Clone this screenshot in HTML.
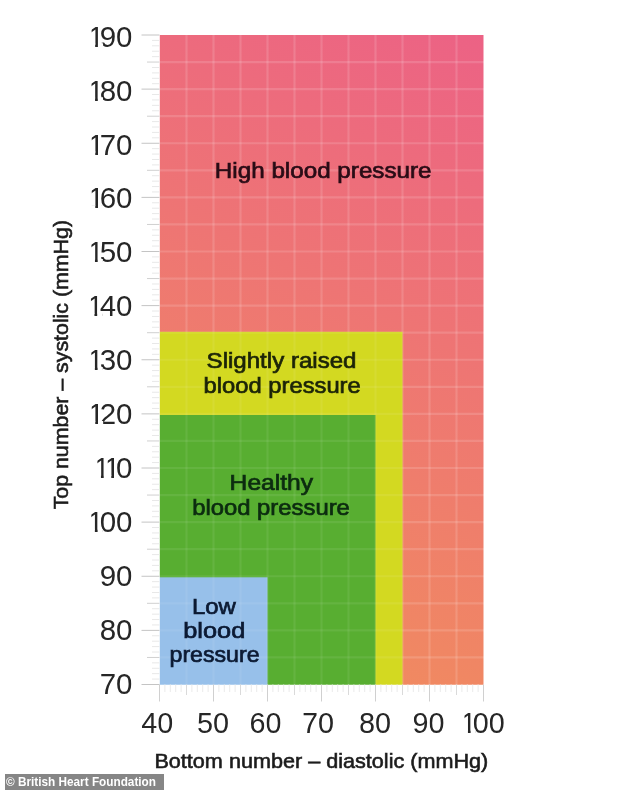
<!DOCTYPE html>
<html lang="en">
<head>
<meta charset="utf-8">
<title>Blood pressure chart</title>
<style>
html,body{margin:0;padding:0;background:#fff;width:634px;height:790px;overflow:hidden;}
.wrap{width:634px;height:790px;overflow:hidden;position:relative;}
svg{display:block;filter:blur(0.4px);}
text{font-family:"Liberation Sans",Arial,sans-serif;}
.num{font-size:29.5px;fill:#262626;}
.ax{font-size:21px;fill:#1c1c1c;stroke:#1c1c1c;stroke-width:0.6;}
.lab{font-size:22px;stroke-width:0.7;}
</style>
</head>
<body>
<div class="wrap">
<svg width="634" height="800" viewBox="0 0 634 800">
<defs>
<linearGradient id="bg" gradientUnits="userSpaceOnUse" x1="483.5" y1="35" x2="165.6" y2="687.5">
<stop offset="0" stop-color="#ec6285"/>
<stop offset="1" stop-color="#f1905b"/>
</linearGradient>
</defs>
<rect x="-10" y="-10" width="654" height="820" fill="#ffffff"/>

<clipPath id="chart"><rect x="159.5" y="35.0" width="324.0" height="649.5"/></clipPath>
<clipPath id="inner"><rect x="154.5" y="331.8" width="248.00" height="357.70"/></clipPath>
<g>
<rect x="154.5" y="30.0" width="334.0" height="659.5" fill="url(#bg)"/>
<g stroke="#ffffff" stroke-opacity="0.14" stroke-width="2.2">
<line x1="154.5" y1="657.44" x2="488.5" y2="657.44"/>
<line x1="154.5" y1="630.38" x2="488.5" y2="630.38"/>
<line x1="154.5" y1="603.31" x2="488.5" y2="603.31"/>
<line x1="154.5" y1="576.25" x2="488.5" y2="576.25"/>
<line x1="154.5" y1="549.19" x2="488.5" y2="549.19"/>
<line x1="154.5" y1="522.12" x2="488.5" y2="522.12"/>
<line x1="154.5" y1="495.06" x2="488.5" y2="495.06"/>
<line x1="154.5" y1="468.00" x2="488.5" y2="468.00"/>
<line x1="154.5" y1="440.94" x2="488.5" y2="440.94"/>
<line x1="154.5" y1="413.88" x2="488.5" y2="413.88"/>
<line x1="154.5" y1="386.81" x2="488.5" y2="386.81"/>
<line x1="154.5" y1="359.75" x2="488.5" y2="359.75"/>
<line x1="154.5" y1="332.69" x2="488.5" y2="332.69"/>
<line x1="154.5" y1="305.62" x2="488.5" y2="305.62"/>
<line x1="154.5" y1="278.56" x2="488.5" y2="278.56"/>
<line x1="154.5" y1="251.50" x2="488.5" y2="251.50"/>
<line x1="154.5" y1="224.44" x2="488.5" y2="224.44"/>
<line x1="154.5" y1="197.38" x2="488.5" y2="197.38"/>
<line x1="154.5" y1="170.31" x2="488.5" y2="170.31"/>
<line x1="154.5" y1="143.25" x2="488.5" y2="143.25"/>
<line x1="154.5" y1="116.19" x2="488.5" y2="116.19"/>
<line x1="154.5" y1="89.12" x2="488.5" y2="89.12"/>
<line x1="154.5" y1="62.06" x2="488.5" y2="62.06"/>
<line x1="186.50" y1="30.0" x2="186.50" y2="689.5"/>
<line x1="213.50" y1="30.0" x2="213.50" y2="689.5"/>
<line x1="240.50" y1="30.0" x2="240.50" y2="689.5"/>
<line x1="267.50" y1="30.0" x2="267.50" y2="689.5"/>
<line x1="294.50" y1="30.0" x2="294.50" y2="689.5"/>
<line x1="321.50" y1="30.0" x2="321.50" y2="689.5"/>
<line x1="348.50" y1="30.0" x2="348.50" y2="689.5"/>
<line x1="375.50" y1="30.0" x2="375.50" y2="689.5"/>
<line x1="402.50" y1="30.0" x2="402.50" y2="689.5"/>
<line x1="429.50" y1="30.0" x2="429.50" y2="689.5"/>
<line x1="456.50" y1="30.0" x2="456.50" y2="689.5"/>
</g>
<rect x="154.5" y="331.8" width="248.00" height="357.70" fill="#d3d921"/>
<rect x="154.5" y="415.0" width="221.00" height="274.50" fill="#58ae31"/>
<rect x="154.5" y="577.3" width="113.00" height="112.20" fill="#97c0ea"/>
<g clip-path="url(#inner)">
<g stroke="#ffffff" stroke-opacity="0.075" stroke-width="2.2">
<line x1="154.5" y1="657.44" x2="488.5" y2="657.44"/>
<line x1="154.5" y1="630.38" x2="488.5" y2="630.38"/>
<line x1="154.5" y1="603.31" x2="488.5" y2="603.31"/>
<line x1="154.5" y1="576.25" x2="488.5" y2="576.25"/>
<line x1="154.5" y1="549.19" x2="488.5" y2="549.19"/>
<line x1="154.5" y1="522.12" x2="488.5" y2="522.12"/>
<line x1="154.5" y1="495.06" x2="488.5" y2="495.06"/>
<line x1="154.5" y1="468.00" x2="488.5" y2="468.00"/>
<line x1="154.5" y1="440.94" x2="488.5" y2="440.94"/>
<line x1="154.5" y1="413.88" x2="488.5" y2="413.88"/>
<line x1="154.5" y1="386.81" x2="488.5" y2="386.81"/>
<line x1="154.5" y1="359.75" x2="488.5" y2="359.75"/>
<line x1="154.5" y1="332.69" x2="488.5" y2="332.69"/>
<line x1="154.5" y1="305.62" x2="488.5" y2="305.62"/>
<line x1="154.5" y1="278.56" x2="488.5" y2="278.56"/>
<line x1="154.5" y1="251.50" x2="488.5" y2="251.50"/>
<line x1="154.5" y1="224.44" x2="488.5" y2="224.44"/>
<line x1="154.5" y1="197.38" x2="488.5" y2="197.38"/>
<line x1="154.5" y1="170.31" x2="488.5" y2="170.31"/>
<line x1="154.5" y1="143.25" x2="488.5" y2="143.25"/>
<line x1="154.5" y1="116.19" x2="488.5" y2="116.19"/>
<line x1="154.5" y1="89.12" x2="488.5" y2="89.12"/>
<line x1="154.5" y1="62.06" x2="488.5" y2="62.06"/>
<line x1="186.50" y1="30.0" x2="186.50" y2="689.5"/>
<line x1="213.50" y1="30.0" x2="213.50" y2="689.5"/>
<line x1="240.50" y1="30.0" x2="240.50" y2="689.5"/>
<line x1="267.50" y1="30.0" x2="267.50" y2="689.5"/>
<line x1="294.50" y1="30.0" x2="294.50" y2="689.5"/>
<line x1="321.50" y1="30.0" x2="321.50" y2="689.5"/>
<line x1="348.50" y1="30.0" x2="348.50" y2="689.5"/>
<line x1="375.50" y1="30.0" x2="375.50" y2="689.5"/>
<line x1="402.50" y1="30.0" x2="402.50" y2="689.5"/>
<line x1="429.50" y1="30.0" x2="429.50" y2="689.5"/>
<line x1="456.50" y1="30.0" x2="456.50" y2="689.5"/>
</g>
</g>
</g>
<path fill="#ffffff" fill-rule="evenodd" d="M-10,-10H644V810H-10Z M159.8,35.0H483.5V684.7H159.8Z"/>
<g stroke-width="1" fill="none">
<line x1="141.5" y1="684.50" x2="159.5" y2="684.50" stroke="#c4c4c4"/>
<line x1="152" y1="679.09" x2="159.5" y2="679.09" stroke="#e8e8e8"/>
<line x1="152" y1="673.67" x2="159.5" y2="673.67" stroke="#e8e8e8"/>
<line x1="152" y1="668.26" x2="159.5" y2="668.26" stroke="#e8e8e8"/>
<line x1="152" y1="662.85" x2="159.5" y2="662.85" stroke="#e8e8e8"/>
<line x1="147" y1="657.44" x2="159.5" y2="657.44" stroke="#d0d0d0"/>
<line x1="152" y1="652.02" x2="159.5" y2="652.02" stroke="#e8e8e8"/>
<line x1="152" y1="646.61" x2="159.5" y2="646.61" stroke="#e8e8e8"/>
<line x1="152" y1="641.20" x2="159.5" y2="641.20" stroke="#e8e8e8"/>
<line x1="152" y1="635.79" x2="159.5" y2="635.79" stroke="#e8e8e8"/>
<line x1="141.5" y1="630.38" x2="159.5" y2="630.38" stroke="#c4c4c4"/>
<line x1="152" y1="624.96" x2="159.5" y2="624.96" stroke="#e8e8e8"/>
<line x1="152" y1="619.55" x2="159.5" y2="619.55" stroke="#e8e8e8"/>
<line x1="152" y1="614.14" x2="159.5" y2="614.14" stroke="#e8e8e8"/>
<line x1="152" y1="608.73" x2="159.5" y2="608.73" stroke="#e8e8e8"/>
<line x1="147" y1="603.31" x2="159.5" y2="603.31" stroke="#d0d0d0"/>
<line x1="152" y1="597.90" x2="159.5" y2="597.90" stroke="#e8e8e8"/>
<line x1="152" y1="592.49" x2="159.5" y2="592.49" stroke="#e8e8e8"/>
<line x1="152" y1="587.08" x2="159.5" y2="587.08" stroke="#e8e8e8"/>
<line x1="152" y1="581.66" x2="159.5" y2="581.66" stroke="#e8e8e8"/>
<line x1="141.5" y1="576.25" x2="159.5" y2="576.25" stroke="#c4c4c4"/>
<line x1="152" y1="570.84" x2="159.5" y2="570.84" stroke="#e8e8e8"/>
<line x1="152" y1="565.42" x2="159.5" y2="565.42" stroke="#e8e8e8"/>
<line x1="152" y1="560.01" x2="159.5" y2="560.01" stroke="#e8e8e8"/>
<line x1="152" y1="554.60" x2="159.5" y2="554.60" stroke="#e8e8e8"/>
<line x1="147" y1="549.19" x2="159.5" y2="549.19" stroke="#d0d0d0"/>
<line x1="152" y1="543.77" x2="159.5" y2="543.77" stroke="#e8e8e8"/>
<line x1="152" y1="538.36" x2="159.5" y2="538.36" stroke="#e8e8e8"/>
<line x1="152" y1="532.95" x2="159.5" y2="532.95" stroke="#e8e8e8"/>
<line x1="152" y1="527.54" x2="159.5" y2="527.54" stroke="#e8e8e8"/>
<line x1="141.5" y1="522.12" x2="159.5" y2="522.12" stroke="#c4c4c4"/>
<line x1="152" y1="516.71" x2="159.5" y2="516.71" stroke="#e8e8e8"/>
<line x1="152" y1="511.30" x2="159.5" y2="511.30" stroke="#e8e8e8"/>
<line x1="152" y1="505.89" x2="159.5" y2="505.89" stroke="#e8e8e8"/>
<line x1="152" y1="500.48" x2="159.5" y2="500.48" stroke="#e8e8e8"/>
<line x1="147" y1="495.06" x2="159.5" y2="495.06" stroke="#d0d0d0"/>
<line x1="152" y1="489.65" x2="159.5" y2="489.65" stroke="#e8e8e8"/>
<line x1="152" y1="484.24" x2="159.5" y2="484.24" stroke="#e8e8e8"/>
<line x1="152" y1="478.82" x2="159.5" y2="478.82" stroke="#e8e8e8"/>
<line x1="152" y1="473.41" x2="159.5" y2="473.41" stroke="#e8e8e8"/>
<line x1="141.5" y1="468.00" x2="159.5" y2="468.00" stroke="#c4c4c4"/>
<line x1="152" y1="462.59" x2="159.5" y2="462.59" stroke="#e8e8e8"/>
<line x1="152" y1="457.18" x2="159.5" y2="457.18" stroke="#e8e8e8"/>
<line x1="152" y1="451.76" x2="159.5" y2="451.76" stroke="#e8e8e8"/>
<line x1="152" y1="446.35" x2="159.5" y2="446.35" stroke="#e8e8e8"/>
<line x1="147" y1="440.94" x2="159.5" y2="440.94" stroke="#d0d0d0"/>
<line x1="152" y1="435.52" x2="159.5" y2="435.52" stroke="#e8e8e8"/>
<line x1="152" y1="430.11" x2="159.5" y2="430.11" stroke="#e8e8e8"/>
<line x1="152" y1="424.70" x2="159.5" y2="424.70" stroke="#e8e8e8"/>
<line x1="152" y1="419.29" x2="159.5" y2="419.29" stroke="#e8e8e8"/>
<line x1="141.5" y1="413.88" x2="159.5" y2="413.88" stroke="#c4c4c4"/>
<line x1="152" y1="408.46" x2="159.5" y2="408.46" stroke="#e8e8e8"/>
<line x1="152" y1="403.05" x2="159.5" y2="403.05" stroke="#e8e8e8"/>
<line x1="152" y1="397.64" x2="159.5" y2="397.64" stroke="#e8e8e8"/>
<line x1="152" y1="392.23" x2="159.5" y2="392.23" stroke="#e8e8e8"/>
<line x1="147" y1="386.81" x2="159.5" y2="386.81" stroke="#d0d0d0"/>
<line x1="152" y1="381.40" x2="159.5" y2="381.40" stroke="#e8e8e8"/>
<line x1="152" y1="375.99" x2="159.5" y2="375.99" stroke="#e8e8e8"/>
<line x1="152" y1="370.57" x2="159.5" y2="370.57" stroke="#e8e8e8"/>
<line x1="152" y1="365.16" x2="159.5" y2="365.16" stroke="#e8e8e8"/>
<line x1="141.5" y1="359.75" x2="159.5" y2="359.75" stroke="#c4c4c4"/>
<line x1="152" y1="354.34" x2="159.5" y2="354.34" stroke="#e8e8e8"/>
<line x1="152" y1="348.93" x2="159.5" y2="348.93" stroke="#e8e8e8"/>
<line x1="152" y1="343.51" x2="159.5" y2="343.51" stroke="#e8e8e8"/>
<line x1="152" y1="338.10" x2="159.5" y2="338.10" stroke="#e8e8e8"/>
<line x1="147" y1="332.69" x2="159.5" y2="332.69" stroke="#d0d0d0"/>
<line x1="152" y1="327.27" x2="159.5" y2="327.27" stroke="#e8e8e8"/>
<line x1="152" y1="321.86" x2="159.5" y2="321.86" stroke="#e8e8e8"/>
<line x1="152" y1="316.45" x2="159.5" y2="316.45" stroke="#e8e8e8"/>
<line x1="152" y1="311.04" x2="159.5" y2="311.04" stroke="#e8e8e8"/>
<line x1="141.5" y1="305.62" x2="159.5" y2="305.62" stroke="#c4c4c4"/>
<line x1="152" y1="300.21" x2="159.5" y2="300.21" stroke="#e8e8e8"/>
<line x1="152" y1="294.80" x2="159.5" y2="294.80" stroke="#e8e8e8"/>
<line x1="152" y1="289.39" x2="159.5" y2="289.39" stroke="#e8e8e8"/>
<line x1="152" y1="283.98" x2="159.5" y2="283.98" stroke="#e8e8e8"/>
<line x1="147" y1="278.56" x2="159.5" y2="278.56" stroke="#d0d0d0"/>
<line x1="152" y1="273.15" x2="159.5" y2="273.15" stroke="#e8e8e8"/>
<line x1="152" y1="267.74" x2="159.5" y2="267.74" stroke="#e8e8e8"/>
<line x1="152" y1="262.32" x2="159.5" y2="262.32" stroke="#e8e8e8"/>
<line x1="152" y1="256.91" x2="159.5" y2="256.91" stroke="#e8e8e8"/>
<line x1="141.5" y1="251.50" x2="159.5" y2="251.50" stroke="#c4c4c4"/>
<line x1="152" y1="246.09" x2="159.5" y2="246.09" stroke="#e8e8e8"/>
<line x1="152" y1="240.68" x2="159.5" y2="240.68" stroke="#e8e8e8"/>
<line x1="152" y1="235.26" x2="159.5" y2="235.26" stroke="#e8e8e8"/>
<line x1="152" y1="229.85" x2="159.5" y2="229.85" stroke="#e8e8e8"/>
<line x1="147" y1="224.44" x2="159.5" y2="224.44" stroke="#d0d0d0"/>
<line x1="152" y1="219.02" x2="159.5" y2="219.02" stroke="#e8e8e8"/>
<line x1="152" y1="213.61" x2="159.5" y2="213.61" stroke="#e8e8e8"/>
<line x1="152" y1="208.20" x2="159.5" y2="208.20" stroke="#e8e8e8"/>
<line x1="152" y1="202.79" x2="159.5" y2="202.79" stroke="#e8e8e8"/>
<line x1="141.5" y1="197.38" x2="159.5" y2="197.38" stroke="#c4c4c4"/>
<line x1="152" y1="191.96" x2="159.5" y2="191.96" stroke="#e8e8e8"/>
<line x1="152" y1="186.55" x2="159.5" y2="186.55" stroke="#e8e8e8"/>
<line x1="152" y1="181.14" x2="159.5" y2="181.14" stroke="#e8e8e8"/>
<line x1="152" y1="175.73" x2="159.5" y2="175.73" stroke="#e8e8e8"/>
<line x1="147" y1="170.31" x2="159.5" y2="170.31" stroke="#d0d0d0"/>
<line x1="152" y1="164.90" x2="159.5" y2="164.90" stroke="#e8e8e8"/>
<line x1="152" y1="159.49" x2="159.5" y2="159.49" stroke="#e8e8e8"/>
<line x1="152" y1="154.08" x2="159.5" y2="154.08" stroke="#e8e8e8"/>
<line x1="152" y1="148.66" x2="159.5" y2="148.66" stroke="#e8e8e8"/>
<line x1="141.5" y1="143.25" x2="159.5" y2="143.25" stroke="#c4c4c4"/>
<line x1="152" y1="137.84" x2="159.5" y2="137.84" stroke="#e8e8e8"/>
<line x1="152" y1="132.42" x2="159.5" y2="132.42" stroke="#e8e8e8"/>
<line x1="152" y1="127.01" x2="159.5" y2="127.01" stroke="#e8e8e8"/>
<line x1="152" y1="121.60" x2="159.5" y2="121.60" stroke="#e8e8e8"/>
<line x1="147" y1="116.19" x2="159.5" y2="116.19" stroke="#d0d0d0"/>
<line x1="152" y1="110.77" x2="159.5" y2="110.77" stroke="#e8e8e8"/>
<line x1="152" y1="105.36" x2="159.5" y2="105.36" stroke="#e8e8e8"/>
<line x1="152" y1="99.95" x2="159.5" y2="99.95" stroke="#e8e8e8"/>
<line x1="152" y1="94.54" x2="159.5" y2="94.54" stroke="#e8e8e8"/>
<line x1="141.5" y1="89.12" x2="159.5" y2="89.12" stroke="#c4c4c4"/>
<line x1="152" y1="83.71" x2="159.5" y2="83.71" stroke="#e8e8e8"/>
<line x1="152" y1="78.30" x2="159.5" y2="78.30" stroke="#e8e8e8"/>
<line x1="152" y1="72.89" x2="159.5" y2="72.89" stroke="#e8e8e8"/>
<line x1="152" y1="67.48" x2="159.5" y2="67.48" stroke="#e8e8e8"/>
<line x1="147" y1="62.06" x2="159.5" y2="62.06" stroke="#d0d0d0"/>
<line x1="152" y1="56.65" x2="159.5" y2="56.65" stroke="#e8e8e8"/>
<line x1="152" y1="51.24" x2="159.5" y2="51.24" stroke="#e8e8e8"/>
<line x1="152" y1="45.83" x2="159.5" y2="45.83" stroke="#e8e8e8"/>
<line x1="152" y1="40.41" x2="159.5" y2="40.41" stroke="#e8e8e8"/>
<line x1="141.5" y1="35.00" x2="159.5" y2="35.00" stroke="#c4c4c4"/>
<line x1="159.50" y1="684.5" x2="159.50" y2="701.5" stroke="#d0d0d0"/>
<line x1="164.90" y1="684.5" x2="164.90" y2="692" stroke="#eaeaea"/>
<line x1="170.30" y1="684.5" x2="170.30" y2="692" stroke="#eaeaea"/>
<line x1="175.70" y1="684.5" x2="175.70" y2="692" stroke="#eaeaea"/>
<line x1="181.10" y1="684.5" x2="181.10" y2="692" stroke="#eaeaea"/>
<line x1="186.50" y1="684.5" x2="186.50" y2="695" stroke="#dadada"/>
<line x1="191.90" y1="684.5" x2="191.90" y2="692" stroke="#eaeaea"/>
<line x1="197.30" y1="684.5" x2="197.30" y2="692" stroke="#eaeaea"/>
<line x1="202.70" y1="684.5" x2="202.70" y2="692" stroke="#eaeaea"/>
<line x1="208.10" y1="684.5" x2="208.10" y2="692" stroke="#eaeaea"/>
<line x1="213.50" y1="684.5" x2="213.50" y2="701.5" stroke="#d0d0d0"/>
<line x1="218.90" y1="684.5" x2="218.90" y2="692" stroke="#eaeaea"/>
<line x1="224.30" y1="684.5" x2="224.30" y2="692" stroke="#eaeaea"/>
<line x1="229.70" y1="684.5" x2="229.70" y2="692" stroke="#eaeaea"/>
<line x1="235.10" y1="684.5" x2="235.10" y2="692" stroke="#eaeaea"/>
<line x1="240.50" y1="684.5" x2="240.50" y2="695" stroke="#dadada"/>
<line x1="245.90" y1="684.5" x2="245.90" y2="692" stroke="#eaeaea"/>
<line x1="251.30" y1="684.5" x2="251.30" y2="692" stroke="#eaeaea"/>
<line x1="256.70" y1="684.5" x2="256.70" y2="692" stroke="#eaeaea"/>
<line x1="262.10" y1="684.5" x2="262.10" y2="692" stroke="#eaeaea"/>
<line x1="267.50" y1="684.5" x2="267.50" y2="701.5" stroke="#d0d0d0"/>
<line x1="272.90" y1="684.5" x2="272.90" y2="692" stroke="#eaeaea"/>
<line x1="278.30" y1="684.5" x2="278.30" y2="692" stroke="#eaeaea"/>
<line x1="283.70" y1="684.5" x2="283.70" y2="692" stroke="#eaeaea"/>
<line x1="289.10" y1="684.5" x2="289.10" y2="692" stroke="#eaeaea"/>
<line x1="294.50" y1="684.5" x2="294.50" y2="695" stroke="#dadada"/>
<line x1="299.90" y1="684.5" x2="299.90" y2="692" stroke="#eaeaea"/>
<line x1="305.30" y1="684.5" x2="305.30" y2="692" stroke="#eaeaea"/>
<line x1="310.70" y1="684.5" x2="310.70" y2="692" stroke="#eaeaea"/>
<line x1="316.10" y1="684.5" x2="316.10" y2="692" stroke="#eaeaea"/>
<line x1="321.50" y1="684.5" x2="321.50" y2="701.5" stroke="#d0d0d0"/>
<line x1="326.90" y1="684.5" x2="326.90" y2="692" stroke="#eaeaea"/>
<line x1="332.30" y1="684.5" x2="332.30" y2="692" stroke="#eaeaea"/>
<line x1="337.70" y1="684.5" x2="337.70" y2="692" stroke="#eaeaea"/>
<line x1="343.10" y1="684.5" x2="343.10" y2="692" stroke="#eaeaea"/>
<line x1="348.50" y1="684.5" x2="348.50" y2="695" stroke="#dadada"/>
<line x1="353.90" y1="684.5" x2="353.90" y2="692" stroke="#eaeaea"/>
<line x1="359.30" y1="684.5" x2="359.30" y2="692" stroke="#eaeaea"/>
<line x1="364.70" y1="684.5" x2="364.70" y2="692" stroke="#eaeaea"/>
<line x1="370.10" y1="684.5" x2="370.10" y2="692" stroke="#eaeaea"/>
<line x1="375.50" y1="684.5" x2="375.50" y2="701.5" stroke="#d0d0d0"/>
<line x1="380.90" y1="684.5" x2="380.90" y2="692" stroke="#eaeaea"/>
<line x1="386.30" y1="684.5" x2="386.30" y2="692" stroke="#eaeaea"/>
<line x1="391.70" y1="684.5" x2="391.70" y2="692" stroke="#eaeaea"/>
<line x1="397.10" y1="684.5" x2="397.10" y2="692" stroke="#eaeaea"/>
<line x1="402.50" y1="684.5" x2="402.50" y2="695" stroke="#dadada"/>
<line x1="407.90" y1="684.5" x2="407.90" y2="692" stroke="#eaeaea"/>
<line x1="413.30" y1="684.5" x2="413.30" y2="692" stroke="#eaeaea"/>
<line x1="418.70" y1="684.5" x2="418.70" y2="692" stroke="#eaeaea"/>
<line x1="424.10" y1="684.5" x2="424.10" y2="692" stroke="#eaeaea"/>
<line x1="429.50" y1="684.5" x2="429.50" y2="701.5" stroke="#d0d0d0"/>
<line x1="434.90" y1="684.5" x2="434.90" y2="692" stroke="#eaeaea"/>
<line x1="440.30" y1="684.5" x2="440.30" y2="692" stroke="#eaeaea"/>
<line x1="445.70" y1="684.5" x2="445.70" y2="692" stroke="#eaeaea"/>
<line x1="451.10" y1="684.5" x2="451.10" y2="692" stroke="#eaeaea"/>
<line x1="456.50" y1="684.5" x2="456.50" y2="695" stroke="#dadada"/>
<line x1="461.90" y1="684.5" x2="461.90" y2="692" stroke="#eaeaea"/>
<line x1="467.30" y1="684.5" x2="467.30" y2="692" stroke="#eaeaea"/>
<line x1="472.70" y1="684.5" x2="472.70" y2="692" stroke="#eaeaea"/>
<line x1="478.10" y1="684.5" x2="478.10" y2="692" stroke="#eaeaea"/>
<line x1="483.50" y1="684.5" x2="483.50" y2="701.5" stroke="#d0d0d0"/>
</g>
<clipPath id="c1"><rect x="91.65" y="22.50" width="6.21" height="20.70"/><rect x="95.16" y="22.50" width="2.75" height="27.00"/><rect x="100.91" y="22.50" width="14.13" height="20.70"/><rect x="103.09" y="43.20" width="11.95" height="6.30"/><rect x="117.01" y="22.50" width="14.64" height="27.00"/></clipPath>
<text class="num" style="font-size:29.5px" clip-path="url(#c1)" x="87.89 99.63 116.04" y="46.5">190</text>
<clipPath id="c2"><rect x="91.55" y="76.48" width="6.21" height="20.70"/><rect x="95.06" y="76.48" width="2.75" height="27.00"/><rect x="100.81" y="76.48" width="14.33" height="20.70"/><rect x="102.99" y="97.18" width="12.15" height="6.30"/><rect x="117.01" y="76.48" width="14.64" height="27.00"/></clipPath>
<text class="num" style="font-size:29.5px" clip-path="url(#c2)" x="87.79 99.63 116.04" y="100.5">180</text>
<clipPath id="c3"><rect x="91.76" y="130.46" width="6.21" height="20.70"/><rect x="95.27" y="130.46" width="2.75" height="27.00"/><rect x="101.01" y="130.46" width="13.93" height="20.70"/><rect x="103.19" y="151.16" width="11.74" height="6.30"/><rect x="117.01" y="130.46" width="14.64" height="27.00"/></clipPath>
<text class="num" style="font-size:29.5px" clip-path="url(#c3)" x="87.99 99.63 116.04" y="154.5">170</text>
<clipPath id="c4"><rect x="91.76" y="184.44" width="6.21" height="20.70"/><rect x="95.27" y="184.44" width="2.75" height="27.00"/><rect x="101.01" y="184.44" width="14.13" height="20.70"/><rect x="103.19" y="205.14" width="11.95" height="6.30"/><rect x="117.01" y="184.44" width="14.64" height="27.00"/></clipPath>
<text class="num" style="font-size:29.5px" clip-path="url(#c4)" x="87.99 99.63 116.04" y="208.4">160</text>
<clipPath id="c5"><rect x="91.45" y="238.42" width="6.21" height="20.70"/><rect x="94.96" y="238.42" width="2.75" height="27.00"/><rect x="100.71" y="238.42" width="14.43" height="20.70"/><rect x="102.89" y="259.12" width="12.25" height="6.30"/><rect x="117.01" y="238.42" width="14.64" height="27.00"/></clipPath>
<text class="num" style="font-size:29.5px" clip-path="url(#c5)" x="87.69 99.63 116.04" y="262.4">150</text>
<clipPath id="c6"><rect x="90.94" y="292.40" width="6.21" height="20.70"/><rect x="94.45" y="292.40" width="2.75" height="27.00"/><rect x="100.20" y="292.40" width="15.35" height="20.70"/><rect x="102.38" y="313.10" width="13.17" height="6.30"/><rect x="117.01" y="292.40" width="14.64" height="27.00"/></clipPath>
<text class="num" style="font-size:29.5px" clip-path="url(#c6)" x="87.18 99.63 116.04" y="316.4">140</text>
<clipPath id="c7"><rect x="91.35" y="346.38" width="6.21" height="20.70"/><rect x="94.86" y="346.38" width="2.75" height="27.00"/><rect x="100.60" y="346.38" width="14.54" height="20.70"/><rect x="102.79" y="367.08" width="12.35" height="6.30"/><rect x="117.01" y="346.38" width="14.64" height="27.00"/></clipPath>
<text class="num" style="font-size:29.5px" clip-path="url(#c7)" x="87.58 99.63 116.04" y="370.4">130</text>
<clipPath id="c8"><rect x="91.76" y="400.36" width="6.21" height="20.70"/><rect x="95.27" y="400.36" width="2.75" height="27.00"/><rect x="101.01" y="400.36" width="13.93" height="20.70"/><rect x="103.19" y="421.06" width="11.74" height="6.30"/><rect x="117.01" y="400.36" width="14.64" height="27.00"/></clipPath>
<text class="num" style="font-size:29.5px" clip-path="url(#c8)" x="87.99 99.63 116.04" y="424.4">120</text>
<clipPath id="c9"><rect x="97.44" y="454.34" width="6.21" height="20.70"/><rect x="100.95" y="454.34" width="2.75" height="27.00"/><rect x="107.76" y="454.34" width="6.21" height="20.70"/><rect x="111.27" y="454.34" width="2.75" height="27.00"/><rect x="117.01" y="454.34" width="14.64" height="20.70"/><rect x="119.19" y="475.04" width="12.46" height="6.30"/></clipPath>
<text class="num" style="font-size:29.5px" clip-path="url(#c9)" x="93.67 103.99 116.04" y="478.3">110</text>
<clipPath id="c10"><rect x="91.35" y="508.32" width="6.21" height="20.70"/><rect x="94.86" y="508.32" width="2.75" height="27.00"/><rect x="100.60" y="508.32" width="14.64" height="20.70"/><rect x="102.79" y="529.02" width="12.46" height="6.30"/><rect x="117.01" y="508.32" width="14.64" height="27.00"/></clipPath>
<text class="num" style="font-size:29.5px" clip-path="url(#c10)" x="87.58 99.63 116.04" y="532.3">100</text>
<clipPath id="c11"><rect x="100.91" y="562.30" width="14.13" height="27.00"/><rect x="117.01" y="562.30" width="14.64" height="27.00"/></clipPath>
<text class="num" style="font-size:29.5px" clip-path="url(#c11)" x="99.63 116.04" y="586.3">90</text>
<clipPath id="c12"><rect x="100.81" y="616.28" width="14.33" height="27.00"/><rect x="117.01" y="616.28" width="14.64" height="27.00"/></clipPath>
<text class="num" style="font-size:29.5px" clip-path="url(#c12)" x="99.63 116.04" y="640.3">80</text>
<clipPath id="c13"><rect x="101.01" y="670.26" width="13.93" height="27.00"/><rect x="117.01" y="670.26" width="14.64" height="27.00"/></clipPath>
<text class="num" style="font-size:29.5px" clip-path="url(#c13)" x="99.63 116.04" y="694.3">70</text>
<clipPath id="c14"><rect x="141.83" y="708.70" width="15.00" height="27.00"/><rect x="158.25" y="708.70" width="14.30" height="27.00"/></clipPath>
<text class="num" style="font-size:28.8px" clip-path="url(#c14)" x="141.28 157.30" y="732.7">40</text>
<clipPath id="c15"><rect x="198.13" y="708.70" width="14.11" height="27.00"/><rect x="214.05" y="708.70" width="14.30" height="27.00"/></clipPath>
<text class="num" style="font-size:28.8px" clip-path="url(#c15)" x="197.08 213.10" y="732.7">50</text>
<clipPath id="c16"><rect x="250.72" y="708.70" width="13.81" height="27.00"/><rect x="266.35" y="708.70" width="14.30" height="27.00"/></clipPath>
<text class="num" style="font-size:28.8px" clip-path="url(#c16)" x="249.38 265.40" y="732.7">60</text>
<clipPath id="c17"><rect x="303.32" y="708.70" width="13.61" height="27.00"/><rect x="318.95" y="708.70" width="14.30" height="27.00"/></clipPath>
<text class="num" style="font-size:28.8px" clip-path="url(#c17)" x="301.98 318.00" y="732.7">70</text>
<clipPath id="c18"><rect x="360.23" y="708.70" width="14.01" height="27.00"/><rect x="376.05" y="708.70" width="14.30" height="27.00"/></clipPath>
<text class="num" style="font-size:28.8px" clip-path="url(#c18)" x="359.08 375.10" y="732.7">80</text>
<clipPath id="c19"><rect x="413.82" y="708.70" width="13.81" height="27.00"/><rect x="429.55" y="708.70" width="14.30" height="27.00"/></clipPath>
<text class="num" style="font-size:28.8px" clip-path="url(#c19)" x="412.58 428.60" y="732.7">90</text>
<clipPath id="c20"><rect x="464.52" y="708.70" width="6.06" height="20.70"/><rect x="467.94" y="708.70" width="2.68" height="27.00"/><rect x="473.63" y="708.70" width="14.30" height="20.70"/><rect x="475.69" y="729.40" width="12.24" height="6.30"/><rect x="489.65" y="708.70" width="14.30" height="27.00"/></clipPath>
<text class="num" style="font-size:28.8px" clip-path="url(#c20)" x="460.84 472.68 488.70" y="732.7">100</text>
<text class="ax" x="154.42" y="768.40" textLength="333.91" lengthAdjust="spacingAndGlyphs">Bottom number – diastolic (mmHg)</text>
<text class="ax" transform="translate(67.80 509.33) rotate(-90)" x="0" y="0" textLength="289.34" lengthAdjust="spacingAndGlyphs">Top number – systolic (mmHg)</text>
<text class="lab" x="214.87" y="177.50" textLength="216.71" lengthAdjust="spacingAndGlyphs" fill="#2a0c16" stroke="#2a0c16">High blood pressure</text>
<text class="lab" x="206.59" y="368.20" textLength="149.89" lengthAdjust="spacingAndGlyphs" fill="#1c2408" stroke="#1c2408">Slightly raised</text>
<text class="lab" x="203.58" y="392.50" textLength="157.18" lengthAdjust="spacingAndGlyphs" fill="#1c2408" stroke="#1c2408">blood pressure</text>
<text class="lab" x="229.60" y="490.20" textLength="83.51" lengthAdjust="spacingAndGlyphs" fill="#0c2c10" stroke="#0c2c10">Healthy</text>
<text class="lab" x="192.17" y="514.60" textLength="157.72" lengthAdjust="spacingAndGlyphs" fill="#0c2c10" stroke="#0c2c10">blood pressure</text>
<text class="lab" x="191.92" y="613.70" textLength="43.87" lengthAdjust="spacingAndGlyphs" fill="#0c1a33" stroke="#0c1a33">Low</text>
<text class="lab" x="183.21" y="638.00" textLength="62.06" lengthAdjust="spacingAndGlyphs" fill="#0c1a33" stroke="#0c1a33">blood</text>
<text class="lab" x="169.52" y="661.80" textLength="90.04" lengthAdjust="spacingAndGlyphs" fill="#0c1a33" stroke="#0c1a33">pressure</text>
<rect x="5" y="774" width="159" height="24" fill="#868686"/>
<text x="6" y="786" font-size="12" font-weight="bold" fill="#ffffff" textLength="150" lengthAdjust="spacingAndGlyphs">© British Heart Foundation</text>
</svg>
</div>
</body>
</html>
